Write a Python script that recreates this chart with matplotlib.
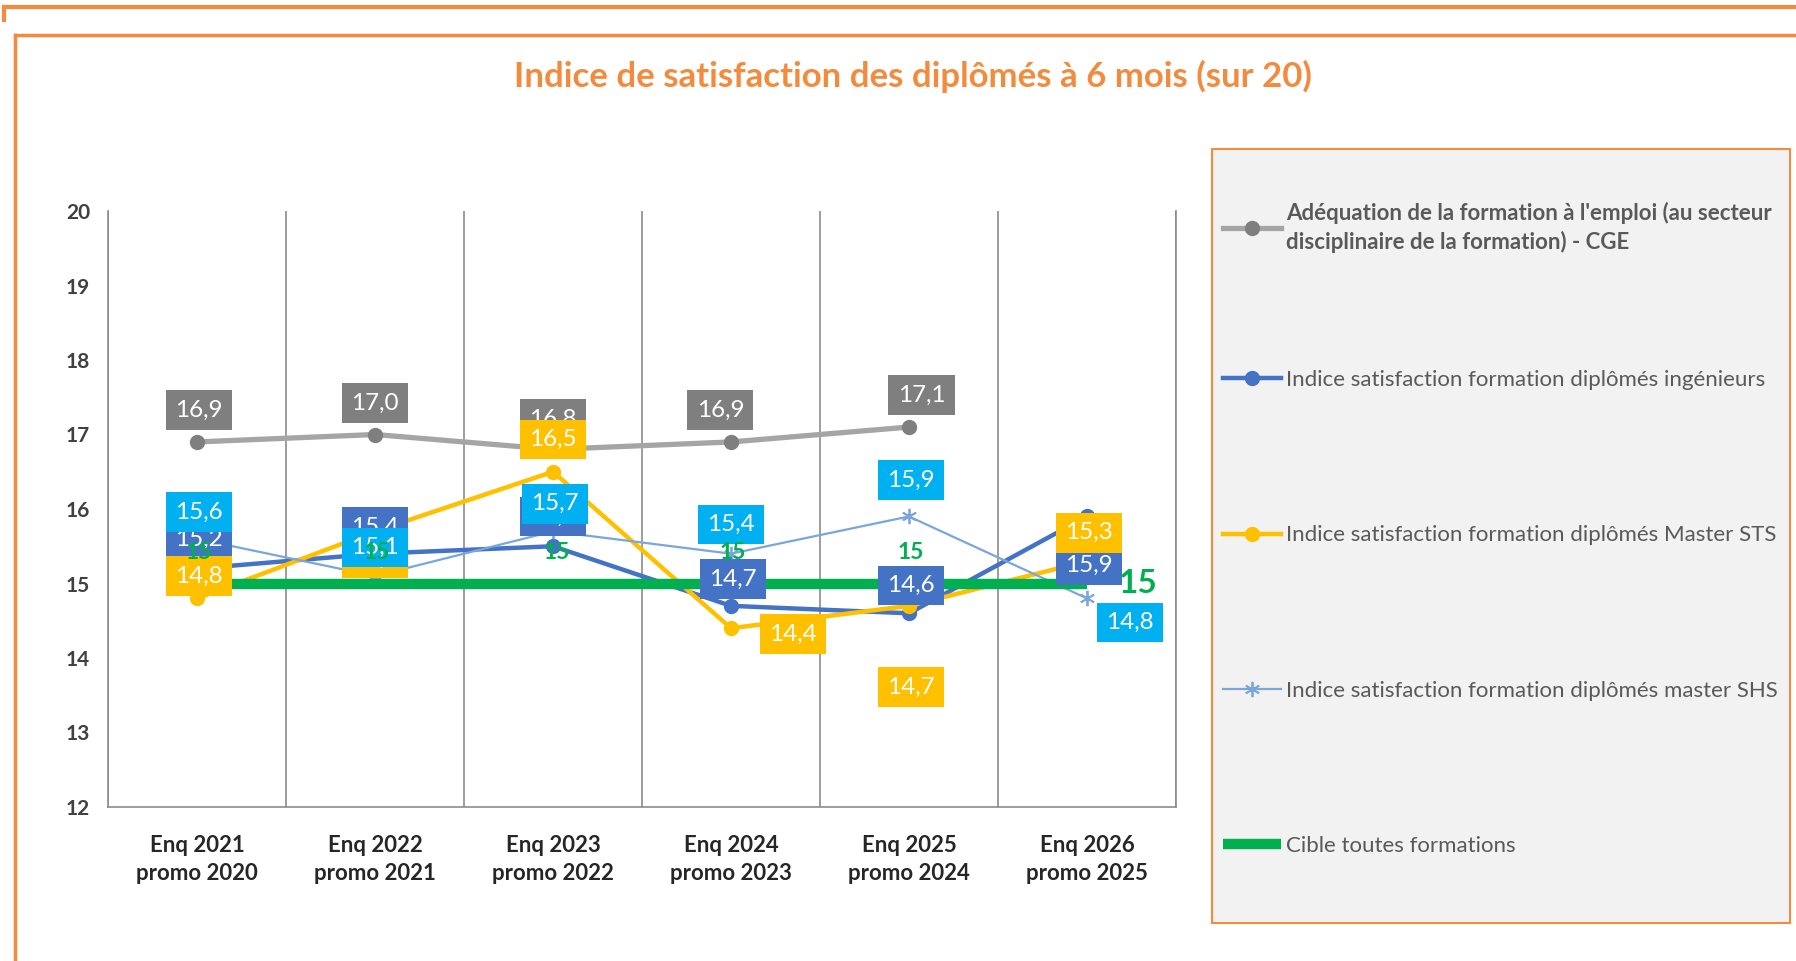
import numpy as np
import matplotlib.pyplot as plt
from matplotlib.lines import Line2D
from matplotlib.patches import Rectangle

# =====================
# DATA
# =====================
categories = ["Enq 2021\npromo 2020", "Enq 2022\npromo 2021", "Enq 2023\npromo 2022",
              "Enq 2024\npromo 2023", "Enq 2025\npromo 2024", "Enq 2026\npromo 2025"]
cge = [16.9, 17.0, 16.8, 16.9, 17.1, np.nan]
ingenieurs = [15.2, 15.4, 15.5, 14.7, 14.6, 15.9]
master_sts = [14.8, 15.7, 16.5, 14.4, 14.7, 15.3]
master_shs = [15.6, 15.1, 15.7, 15.4, 15.9, 14.8]
cible = [15, 15, 15, 15, 15, 15]

labels = [
    "Adéquation de la formation à l'emploi (au secteur\ndisciplinaire de la formation) - CGE",
    "Indice satisfaction formation diplômés ingénieurs",
    "Indice satisfaction formation diplômés Master STS",
    "Indice satisfaction formation diplômés master SHS",
    "Cible toutes formations",
]

# =====================
# STYLE
# =====================
plt.rcParams.update({
    "font.family": ["Lato", "DejaVu Sans"],
    "font.size": 14,
})

ORANGE = "#F38B3F"
GREY_LINE, GREY_BOX = "#A5A5A5", "#7F7F7F"
BLUE = "#4472C4"
YELLOW = "#FFC000"
SHS_LINE, SHS_BOX = "#7AA6DB", "#00B0F0"
GREEN = "#00B050"

# label offsets (category units, value units) - layout only
off_cge = [(0.01, 0.43), (0, 0.42), (0, 0.41), (-0.06, 0.43), (0.07, 0.43), None]
off_ing = [(0.01, 0.39), (0, 0.36), (0, 0.40), (0.01, 0.36), (0.01, 0.37), (0.01, -0.65)]
off_sts = [(0.01, 0.30), (0, -0.36), (0, 0.43), (0.35, -0.08), (0.01, -1.09), (0.01, 0.38)]
off_shs = [(0.01, 0.36), (0, 0.38), (0.01, 0.37), (0, 0.39), (0.01, 0.49), (0.24, -0.32)]
off_cib = [(0.01, 0.41), (0.01, 0.41), (0.02, 0.41), (0.01, 0.41), (0.01, 0.41), (0.29, 0.0)]

# =====================
# PLOT
# =====================
fig = plt.figure(figsize=(17.96, 9.61), dpi=100)
ax = fig.add_axes([108 / 1796, 1 - 807 / 961, (1176 - 108) / 1796, (807 - 211) / 961])

x = np.arange(len(categories))

h1, = ax.plot(x, cge, color=GREY_LINE, lw=3.8, marker="o", ms=10,
              mfc=GREY_BOX, mec=GREY_BOX, zorder=3)
h2, = ax.plot(x, ingenieurs, color=BLUE, lw=3.2, marker="o", ms=10, zorder=3)
h3, = ax.plot(x, master_sts, color=YELLOW, lw=3.2, marker="o", ms=10, zorder=3)
h4, = ax.plot(x, master_shs, color=SHS_LINE, lw=1.6, marker=(6, 2, 0), ms=11,
              mew=1.3, zorder=3)
h5, = ax.plot(x, cible, color=GREEN, lw=7.5, solid_capstyle="butt", zorder=4)


def fmt(v):
    return f"{v:.1f}".replace(".", ",")


def put_labels(vals, offs, box, z):
    for i, (v, o) in enumerate(zip(vals, offs)):
        if o is None or np.isnan(v):
            continue
        ax.text(i + o[0], v + o[1], fmt(v), ha="center", va="center",
                fontsize=17.5, color="white", zorder=z,
                bbox=dict(boxstyle="square,pad=0.38", fc=box, ec="none"))


put_labels(cge, off_cge, GREY_BOX, 6)
put_labels(ingenieurs, off_ing, BLUE, 7)
put_labels(master_sts, off_sts, YELLOW, 8)
put_labels(master_shs, off_shs, SHS_BOX, 9)

for i, (v, o) in enumerate(zip(cible, off_cib)):
    big = i == len(cible) - 1
    ax.text(i + o[0], v + o[1], f"{v}", ha="center", va="center",
            fontsize=24 if big else 16.5, fontweight="bold", color=GREEN, zorder=10)

# axes
ax.set_xlim(-0.5, len(categories) - 0.5)
ax.set_ylim(12, 20)
ax.set_yticks(np.arange(12, 21, 1))
ax.set_xticks(x)
ax.set_xticklabels(categories, fontsize=16, fontweight="bold", color="#262626",
                   linespacing=1.45)
ax.set_xticks(np.arange(-0.5, len(categories), 1), minor=True)
ax.tick_params(axis="both", which="both", length=0)
ax.tick_params(axis="y", labelsize=15, labelcolor="#404040", pad=13)
ax.tick_params(axis="x", pad=20)
for t in ax.get_yticklabels():
    t.set_fontweight("bold")
ax.grid(which="minor", axis="x", color="#8C8C8C", lw=1.2)
ax.spines["top"].set_visible(False)
for s in ["left", "right", "bottom"]:
    ax.spines[s].set_color("#8C8C8C")
    ax.spines[s].set_linewidth(1.2)

# title
fig.text(913 / 1796, 1 - 76 / 961, "Indice de satisfaction des diplômés à 6 mois (sur 20)",
         ha="center", va="center", fontsize=25, fontweight="bold", color=ORANGE)

# frames
fig.add_artist(Line2D([4 / 1796, 1], [1 - 7 / 961, 1 - 7 / 961], color=ORANGE, lw=3))
fig.add_artist(Line2D([4 / 1796, 4 / 1796], [1 - 7 / 961, 1 - 20 / 961], color=ORANGE, lw=3))
fig.add_artist(Line2D([15 / 1796, 1], [1 - 35 / 961, 1 - 35 / 961], color=ORANGE, lw=2.5))
fig.add_artist(Line2D([15 / 1796, 15 / 1796], [1 - 35 / 961, 0], color=ORANGE, lw=2.5))

# legend (background box + two stacked legends for the uneven Excel spacing)
fig.add_artist(Rectangle((1212 / 1796, 1 - 923 / 961), 578 / 1796, 774 / 961,
                         transform=fig.transFigure, fc="#F2F2F2", ec=ORANGE, lw=1.5))
leg_kw = dict(loc="upper left", frameon=False, fontsize=16, labelcolor="#595959",
              handlelength=2.6, handletextpad=0.25, borderpad=0, borderaxespad=0,
              numpoints=1)
leg1 = fig.legend([h1], labels[:1], bbox_to_anchor=(1223 / 1796, 1 - 202 / 961), **leg_kw)
leg1.get_texts()[0].set_fontweight("bold")
leg1.get_texts()[0].set_linespacing(1.4)
leg2 = fig.legend([h2, h3, h4, h5], labels[1:], bbox_to_anchor=(1223 / 1796, 1 - 370 / 961),
                  labelspacing=6.09, **leg_kw)

plt.savefig("out.png", dpi=100)
